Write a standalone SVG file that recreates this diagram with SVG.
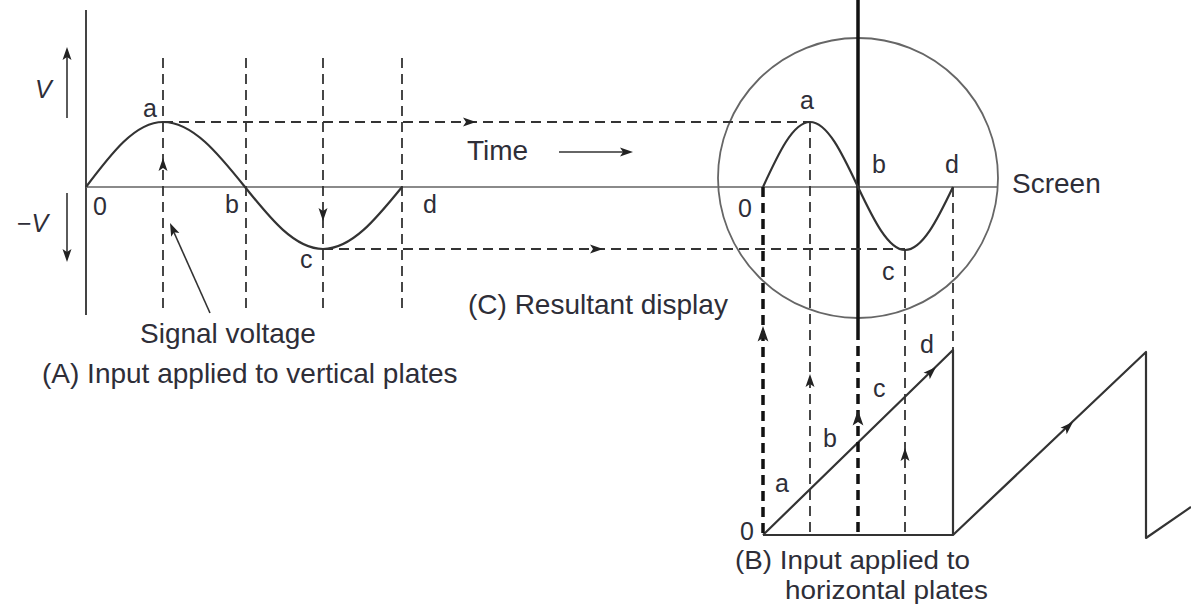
<svg xmlns="http://www.w3.org/2000/svg" width="1191" height="608" viewBox="0 0 1191 608">
<style>
text{font-family:"Liberation Sans",Arial,sans-serif;fill:#2e2e38}
.cap{font-size:28px}
.cap2{font-size:26px}
.lb{font-size:25px}
.ax{stroke:#444;stroke-width:2;fill:none}
.base{stroke:#8a8a8a;stroke-width:2;fill:none}
.wave{stroke:#333;stroke-width:2.2;fill:none;stroke-linejoin:round}
.dash{stroke:#333;stroke-width:1.8;stroke-dasharray:10 6;fill:none}
.tdash{stroke:#111;stroke-width:3.5;stroke-dasharray:10 6;fill:none}
.hd{fill:#222}
.thin{stroke:#333;stroke-width:1.6;fill:none}
</style>
<defs>
<path id="hd" d="M0,0 L-13,-4.5 L-10,0 L-13,4.5 Z"/>
</defs>
<rect width="1191" height="608" fill="#fff"/>

<g id="graph-A">
<line class="ax" x1="86" y1="10" x2="86" y2="315"/>
<line class="base" x1="86" y1="187" x2="998" y2="187"/>
<path class="wave" d="M86,187 C111.1,153.7 135.1,122 163,122 C192.7,122 218.3,153.7 245,187 C270.4,218.8 294.8,249 323,249 C351.6,249 376.2,218.8 402,187"/>
<line class="thin" x1="67" y1="118" x2="67" y2="52"/>
<use href="#hd" class="hd" transform="translate(67,47) rotate(-90)"/>
<line class="thin" x1="67" y1="193" x2="67" y2="257"/>
<use href="#hd" class="hd" transform="translate(67,262) rotate(90)"/>
<text class="lb" x="35" y="98" font-style="italic">V</text>
<text class="lb" x="17" y="232">−<tspan font-style="italic">V</tspan></text>
<text class="lb" x="143" y="117">a</text>
<text class="lb" x="93" y="215">0</text>
<text class="lb" x="225" y="213">b</text>
<text class="lb" x="300" y="268">c</text>
<text class="lb" x="423" y="213">d</text>
<text class="cap" x="140" y="343">Signal voltage</text>
<text class="cap" x="42" y="383">(A) Input applied to vertical plates</text>
</g>

<g id="screen-C">
<circle cx="858" cy="178" r="140" fill="none" stroke="#666" stroke-width="1.8"/>
<line x1="858" y1="0" x2="858" y2="330" stroke="#111" stroke-width="3.5"/>
<path class="wave" d="M763,187 C778.3,153.7 793,122 810,122 C827.4,122 842.3,153.7 858,187 C873.3,219.3 888.4,250 905,250 C922.4,250 937.6,219.3 953,187"/>
<text class="lb" x="800" y="109">a</text>
<text class="lb" x="872" y="173">b</text>
<text class="lb" x="945" y="173">d</text>
<text class="lb" x="738" y="217">0</text>
<text class="lb" x="882" y="280">c</text>
<text class="cap" x="1012" y="193">Screen</text>
<text class="cap" x="468" y="314">(C) Resultant display</text>
</g>

<g id="time-label">
<text class="cap" x="467" y="160">Time</text>
<line class="thin" x1="559" y1="152" x2="628" y2="152"/>
<use href="#hd" class="hd" transform="translate(633,152)"/>
</g>

<g id="ramp-B">
<path class="wave" d="M763,535 L953,350 L953,535 L763,535"/>
<path class="wave" d="M953,535 L1146,352 L1146,538 L1191,507"/>
<use href="#hd" class="hd" transform="translate(936,367) rotate(-44)"/>
<use href="#hd" class="hd" transform="translate(1073,422) rotate(-43.5)"/>
<text class="lb" x="740" y="540">0</text>
<text class="lb" x="775" y="492">a</text>
<text class="lb" x="823" y="447">b</text>
<text class="lb" x="873" y="397">c</text>
<text class="lb" x="920" y="353">d</text>
<text class="cap2" x="735" y="569" textLength="235" lengthAdjust="spacingAndGlyphs">(B) Input applied to</text>
<text class="cap2" x="785" y="599" textLength="203" lengthAdjust="spacingAndGlyphs">horizontal plates</text>
</g>

<g id="connectors">
<line class="dash" x1="163" y1="58" x2="163" y2="313"/>
<line class="dash" x1="246" y1="58" x2="246" y2="313"/>
<line class="dash" x1="323" y1="58" x2="323" y2="313"/>
<line class="dash" x1="402" y1="58" x2="402" y2="313"/>
<line class="dash" x1="163" y1="122" x2="810" y2="122"/>
<line class="dash" x1="323" y1="249" x2="905" y2="249"/>
<use href="#hd" class="hd" transform="translate(163,158) rotate(-90)"/>
<use href="#hd" class="hd" transform="translate(323,221) rotate(90)"/>
<use href="#hd" class="hd" transform="translate(476,122)"/>
<use href="#hd" class="hd" transform="translate(603,249)"/>
<line class="tdash" x1="763" y1="187" x2="763" y2="535"/>
<line class="dash" x1="810" y1="122" x2="810" y2="535"/>
<line class="tdash" x1="858" y1="330" x2="858" y2="535"/>
<line class="dash" x1="905" y1="250" x2="905" y2="535"/>
<line class="dash" x1="953" y1="187" x2="953" y2="350"/>
<use href="#hd" class="hd" transform="translate(763,326) rotate(-90) scale(1.2)"/>
<use href="#hd" class="hd" transform="translate(810,374) rotate(-90)"/>
<use href="#hd" class="hd" transform="translate(858,410) rotate(-90) scale(1.2)"/>
<use href="#hd" class="hd" transform="translate(905,448) rotate(-90)"/>
<line class="thin" x1="210" y1="313" x2="172" y2="228"/>
<use href="#hd" class="hd" transform="translate(170,223) rotate(-114)"/>
</g>
</svg>
